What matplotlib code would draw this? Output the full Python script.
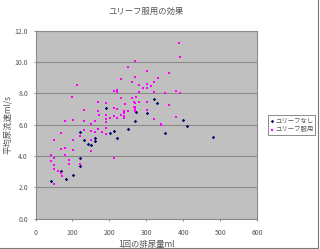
import matplotlib
matplotlib.use("Agg")
import matplotlib.pyplot as plt
from matplotlib.patches import Rectangle

plt.rcParams['font.family'] = ['Noto Sans CJK JP', 'DejaVu Sans']

# ユリーフなし (without)
x_none = [190, 320, 330, 271, 301, 270, 399, 411, 351, 481, 251, 211, 221, 201,
          120, 161, 162, 131, 151, 141, 120, 121, 70, 82, 101, 41]
y_none = [7.08, 7.64, 7.40, 6.79, 6.75, 6.21, 6.30, 5.90, 5.44, 5.23, 5.70, 5.58, 5.15, 5.45,
          5.51, 5.17, 4.94, 5.02, 4.70, 4.75, 3.89, 3.38, 3.06, 2.53, 2.81, 2.41]

# ユリーフ服用 (with)
x_with = [111, 100, 170, 190, 132, 170, 171, 190, 190, 190, 81, 101, 132, 161, 151,
          389, 390, 270, 251, 301, 270, 361, 332, 232, 261, 321, 281, 301, 312, 291,
          301, 221, 212, 221, 281, 320, 351, 380, 391, 232, 261, 271, 281, 301, 241,
          266, 266, 270, 270, 270, 270, 211, 221, 231, 212, 251, 301, 361, 320, 339,
          240, 240, 240, 240, 221, 202, 70, 51, 132, 151, 161, 170, 180, 190, 190,
          120, 101, 151, 151, 70, 81, 101, 41, 51, 81, 41, 91, 90, 120, 51,
          51, 61, 70, 71, 51, 212, 340, 380]
y_with = [8.51, 7.77, 7.47, 7.38, 6.92, 6.85, 6.60, 6.62, 6.36, 6.19, 6.23, 6.30, 6.25, 6.23, 6.04,
          11.19, 10.34, 10.06, 9.68, 9.43, 9.04, 9.28, 8.98, 8.90, 8.72, 8.72, 8.55, 8.62, 8.45, 8.36,
          8.36, 8.21, 8.13, 8.09, 8.07, 8.07, 8.00, 8.13, 8.02, 7.72, 7.70, 7.77, 7.47, 7.45, 7.34,
          7.45, 7.10, 7.38, 7.15, 6.99, 6.90, 7.05, 6.98, 6.64, 6.57, 6.85, 6.96, 7.26, 6.38, 6.04,
          6.87, 6.73, 6.55, 6.41, 6.41, 6.45, 5.45, 5.02, 5.68, 5.62, 5.55, 5.72, 5.51, 5.79, 5.39,
          5.26, 5.02, 5.02, 4.32, 4.45, 4.49, 4.38, 4.07, 3.89, 4.05, 3.70, 3.77, 3.48, 3.49, 3.41,
          3.19, 3.04, 2.94, 2.74, 2.21, 3.87, 5.98, 6.49]

title = 'ユリーフ服用の効果'
xlabel = '1回の排尿量ml'
ylabel = '平均尿流速ml/s'
labels = ['ユリーフなし', 'ユリーフ服用']
xticks = [0, 100, 200, 300, 400, 500, 600]
yticks = [0.0, 2.0, 4.0, 6.0, 8.0, 10.0, 12.0]

txt = '#555555'

fig = plt.figure(figsize=(3.2, 2.49), dpi=100)
ax = fig.add_axes([0.111, 0.122, 0.693, 0.755])
ax.set_facecolor('#c0c0c0')

ax.scatter(x_none, y_none, s=3, marker='D', color='#000066', linewidths=0,
           label=labels[0], zorder=3)
ax.scatter(x_with, y_with, s=4, marker='s', color='#ff00ff', linewidths=0,
           label=labels[1], zorder=3)

ax.set_xlim(0, 600)
ax.set_ylim(0, 12)
ax.set_xticks(xticks)
ax.set_xticklabels([str(v) for v in xticks])
ax.set_yticks(yticks)
ax.set_yticklabels(['%.1f' % v for v in yticks])
ax.yaxis.grid(True, color='#8a8a8a', linewidth=0.8)
ax.set_axisbelow(True)
for s in ax.spines.values():
    s.set_color('#8a8a8a')
    s.set_linewidth(0.8)
ax.tick_params(labelsize=5, colors=txt, length=1.5, width=0.5, pad=4)
ax.tick_params(axis='x', pad=6)

ax.set_title(title, fontsize=6, color=txt, pad=12)
ax.set_xlabel(xlabel, fontsize=6, color=txt, labelpad=2)
ax.set_ylabel(ylabel, fontsize=6, color=txt, labelpad=2)

leg = fig.legend(loc='upper left', bbox_to_anchor=(0.838, 0.54), fontsize=4.6,
                 frameon=True, fancybox=False, handlelength=0.5, handletextpad=0.3,
                 borderpad=0.3, labelspacing=0.15, borderaxespad=0, markerscale=1.0)
leg.get_frame().set_edgecolor('#555555')
leg.get_frame().set_linewidth(0.6)
for t in leg.get_texts():
    t.set_color(txt)

fig.patches.append(Rectangle((-0.01, 0.006), 1.004, 1.1, transform=fig.transFigure,
                             fill=False, edgecolor='#777777', linewidth=0.8))

fig.savefig('out.png', dpi=100)
